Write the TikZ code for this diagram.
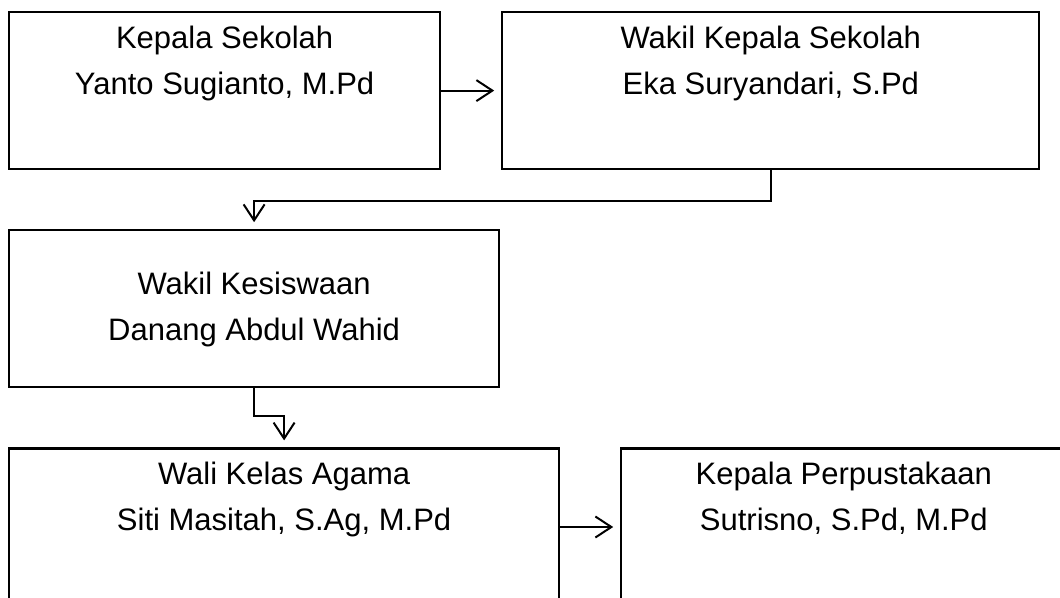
\documentclass[tikz,border=0pt]{standalone}
\usepackage{fontspec}
\setmainfont{Liberation Sans}
\usepackage{tikz}
\usetikzlibrary{arrows.meta,positioning}
% isi kotak: teks rata tengah, baris pertama dekat tepi atas
\newcommand{\isikotak}[3][36pt]{\parbox[t][157pt][t]{#2}{\centering\rule{0pt}{#1}#3}}

\begin{document}
\begin{tikzpicture}[
        x=1pt, y=1pt,
        kotak/.style={draw, line width=2.2pt, inner sep=0pt, font=\fontsize{31pt}{46pt}\selectfont},
        panah/.style={-{Straight Barb[length=16pt, width=21pt]}, line width=2pt, shorten >=7pt}
    ]
    \useasboundingbox (0,0) rectangle (1060,-597);
    \clip (0,0) rectangle (1060,-597);

    \node[kotak, anchor=north west] (kepsek) at (8,-11) {\isikotak{431pt}{Kepala Sekolah\\Yanto Sugianto, M.Pd}};
    \node[kotak, right=60pt of kepsek] (wakasek) {\isikotak{537pt}{Wakil Kepala Sekolah\\Eka Suryandari, S.Pd}};
    \node[kotak, below=59pt of kepsek.south west, anchor=north west] (kesiswaan) {\isikotak[64pt]{490pt}{Wakil Kesiswaan\\Danang Abdul Wahid}};
    \node[kotak, below=59pt of kesiswaan.south west, anchor=north west] (walikelas) {\isikotak{550pt}{Wali Kelas Agama\\Siti Masitah, S.Ag, M.Pd}};
    \node[kotak, right=60pt of walikelas] (perpus) {\isikotak{445pt}{Kepala Perpustakaan\\Sutrisno, S.Pd, M.Pd}};

    \draw[panah] (kepsek.east) -- (kepsek.east -| wakasek.west);
    \draw[panah] (wakasek.south) -- ++(0,-31) -| (kesiswaan.north);
    \draw[panah] (kesiswaan.south) -- ++(0,-28) -| (walikelas.north);
    \draw[panah] (walikelas.east) -- (perpus.west);
\end{tikzpicture}
\end{document}
